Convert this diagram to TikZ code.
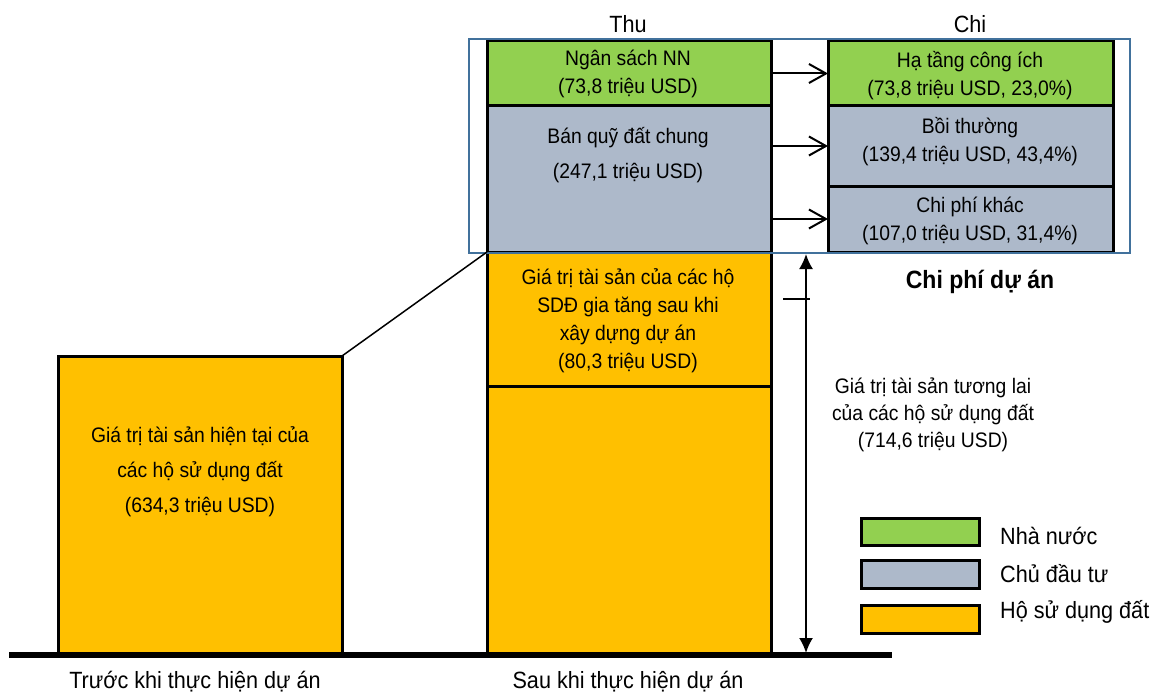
\documentclass[tikz,border=0pt]{standalone}
\usepackage{fontspec}
\setmainfont{Liberation Sans}[FakeStretch=0.92]
\usetikzlibrary{arrows.meta}
\definecolor{cgreen}{HTML}{92D050}
\definecolor{cgray}{HTML}{ADB9CA}
\definecolor{corange}{HTML}{FFC000}
\definecolor{cframe}{HTML}{41719C}
\begin{document}
\begin{tikzpicture}[x=1pt,y=-1pt,
  box/.style={draw=black, line width=3pt, anchor=north west, inner sep=0pt, outer sep=0pt},
  txt/.style={align=center, inner sep=0pt, font=\fontsize{21}{28}\selectfont},
  txtw/.style={align=center, inner sep=0pt, font=\fontsize{21}{35}\selectfont},
  big/.style={align=center, inner sep=0pt, font=\fontsize{23.5}{28}\selectfont},
  lbl/.style={anchor=west, inner sep=0pt, font=\fontsize{23.5}{28}\selectfont},
  arr/.style={line width=2pt, -{Straight Barb[length=17pt,width=19pt]}},
  dim/.style={line width=2pt, {Latex[length=15pt,width=14pt]}-{Latex[length=15pt,width=14pt]}}]
\useasboundingbox (0,0) rectangle (1155,695);
% boxes
\node[box, fill=corange, minimum width=284, minimum height=299] (left) at (58,356) {};
\node[box, fill=cgreen, minimum width=284, minimum height=65] (ns) at (487,41) {};
\node[box, fill=cgray, minimum width=284, minimum height=146] (bq) at (487,106) {};
\node[box, fill=corange, minimum width=284, minimum height=134] (gt) at (487,252) {};
\node[box, fill=corange, minimum width=284, minimum height=269] (gb) at (487,386) {};
\node[box, fill=cgreen, minimum width=285, minimum height=65] (ht) at (828,41) {};
\node[box, fill=cgray, minimum width=285, minimum height=80] (bt) at (828,106) {};
\node[box, fill=cgray, minimum width=285, minimum height=66] (cp) at (828,186) {};
% frame
\node[draw=cframe, line width=2.2pt, anchor=north west, inner sep=0pt, outer sep=0pt, minimum width=661, minimum height=214] (fr) at (469,39) {};
% ground
\coordinate (g1) at (9,655);
\coordinate (g2) at (892,655);
\draw[line width=5.5pt] (g1) -- (g2);
% connector
\draw[line width=1.5pt] (left.north east) -- (gt.north west);
% arrows
\draw[arr] (ns.east) -- (ht.west);
\draw[arr] (bq.east |- bt.west) -- (bt.west);
\draw[arr] (bq.east |- cp.west) -- (cp.west);
% dimension
\coordinate (va) at (806,254);
\coordinate (vb) at (806,653);
\draw[dim] (va) -- (vb);
\coordinate (t1) at (783,299);
\coordinate (t2) at (810,299);
\draw[line width=1.5pt] (t1) -- (t2);
% texts
\node[big] (thu) at (628,24) {Thu};
\node[big] (chi) at (970,24) {Chi};
\node[txt] (nst) at (628,74) {Ngân sách NN\\(73,8 triệu USD)};
\node[txtw] (bqt) at (628,155) {Bán quỹ đất chung\\(247,1 triệu USD)};
\node[txt] (htt) at (970,76) {Hạ tầng công ích\\(73,8 triệu USD, 23,0\%)};
\node[txt] (btt) at (970,142) {Bồi thường\\(139,4 triệu USD, 43,4\%)};
\node[txt] (cpt) at (970,221) {Chi phí khác\\(107,0 triệu USD, 31,4\%)};
\node[txt] (gtt) at (628,321) {Giá trị tài sản của các hộ\\SDĐ gia tăng sau khi\\xây dựng dự án\\(80,3 triệu USD)};
\node[txtw] (lt) at (200,472) {Giá trị tài sản hiện tại của\\các hộ sử dụng đất\\(634,3 triệu USD)};
\node[align=center, inner sep=0pt, font=\fontsize{21}{27}\selectfont] (ft) at (933,415) {Giá trị tài sản tương lai\\của các hộ sử dụng đất\\(714,6 triệu USD)};
\node[inner sep=0pt, font=\fontsize{25}{28}\selectfont\bfseries] (cpd) at (980,282) {Chi phí dự án};
\node[big] (b1) at (195,682) {Trước khi thực hiện dự án};
\node[big] (b2) at (628,682) {Sau khi thực hiện dự án};
% legend
\node[box, fill=cgreen, minimum width=118, minimum height=27] (lg1) at (861,518) {};
\node[box, fill=cgray, minimum width=118, minimum height=28] (lg2) at (861,560) {};
\node[box, fill=corange, minimum width=118, minimum height=28] (lg3) at (861,605) {};
\node[lbl] (l1) at (1000,536) {Nhà nước};
\node[lbl] (l2) at (1000,574) {Chủ đầu tư};
\node[lbl] (l3) at (1000,612) {Hộ sử dụng đất};
\end{tikzpicture}
\end{document}
